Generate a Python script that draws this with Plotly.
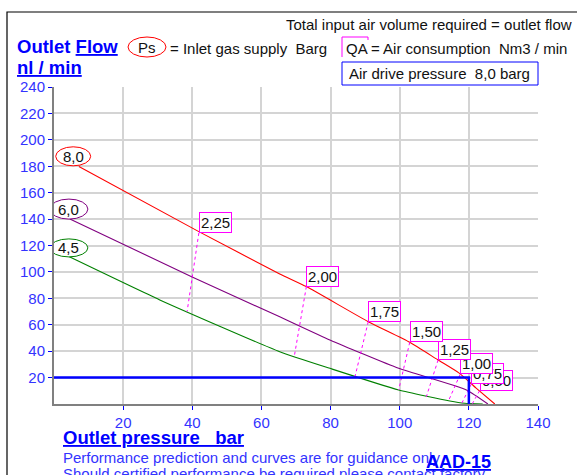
import plotly.graph_objects as go

# ---------------- data ----------------
x_ticks = [20, 40, 60, 80, 100, 120, 140]
y_ticks = [20, 40, 60, 80, 100, 120, 140, 160, 180, 200, 220, 240]

ps_labels = ["8,0", "6,0", "4,5"]
ps_colors = ["#ff0000", "#800080", "#008000"]

red_x = [7.2, 41.9, 65.3, 73.0, 90.9, 102.9, 111.1, 117.3, 122.1, 127.5]
red_y = [179.8, 130.5, 98.5, 88.9, 62.3, 46.7, 33.3, 23.2, 12.0, 0.0]

purple_x = [4.6, 39.8, 65.3, 79.8, 99.7, 119.3, 125.5]
purple_y = [140.0, 96.4, 66.0, 48.5, 27.0, 10.6, 0.0]

green_x = [4.3, 30.6, 65.3, 79.8, 99.7, 114.5, 118.8, 124.0]
green_y = [111.6, 78.8, 39.6, 27.0, 10.6, 2.3, 0.6, 0.0]

qa_labels = ["2,25", "2,00", "1,75", "1,50", "1,25", "1,00", "0,75", "0,50"]
qa_top_x = [41.9, 73.0, 90.9, 102.9, 111.1, 117.5, 120.7, 123.1]
qa_top_y = [129.5, 88.9, 62.3, 46.7, 33.3, 22.5, 15.0, 10.0]
qa_bot_x = [38.5, 69.5, 87.0, 99.7, 107.7, 114.0, 118.0, 121.0]
qa_bot_y = [70.0, 36.0, 20.0, 10.6, 5.5, 1.7, 0.8, 0.2]

op_flow = 20      # operating point: outlet flow
op_pressure = 120  # operating point: outlet pressure

# ---------------- layout helpers ----------------
W, H = 577, 475
L, R, T, B = 54, 538, 87, 404
FONT = "Liberation Sans, Arial, sans-serif"
BLUE = "#0000ff"
TBLUE = "#3333ff"


def fx(px):
    return (px - L) / (R - L)


def fy(py):
    return (B - py) / (B - T)


fig = go.Figure()

series = [(red_x, red_y), (purple_x, purple_y), (green_x, green_y)]
for (xs, ys), c in zip(series, ps_colors):
    fig.add_trace(go.Scatter(x=xs, y=ys, mode="lines",
                             line=dict(color=c, width=1.1, shape="spline", smoothing=0.5),
                             hoverinfo="skip", showlegend=False))

# QA dotted lines
for tx, ty, bx, by in zip(qa_top_x, qa_top_y, qa_bot_x, qa_bot_y):
    fig.add_trace(go.Scatter(x=[tx, bx], y=[ty, by], mode="lines",
                             line=dict(color="#ff00ff", width=1, dash="dot"),
                             hoverinfo="skip", showlegend=False))

# operating point guide
fig.add_trace(go.Scatter(x=[0, op_pressure, op_pressure], y=[op_flow, op_flow, 0],
                         mode="lines", line=dict(color=BLUE, width=2.5),
                         hoverinfo="skip", showlegend=False))

annotations = []
shapes = []

# Ps ellipse labels at curve starts
ps_dx = [-5.7, -1, 0]
ps_dy = [10.2, 10, 8.7]
ps_w = [35, 38, 38]
ps_h = [19, 20, 18]
for (xs, ys), c, lab, dx, dy, w, h in zip(series, ps_colors, ps_labels, ps_dx, ps_dy, ps_w, ps_h):
    shapes.append(dict(type="circle", xref="x", yref="y",
                       xsizemode="pixel", ysizemode="pixel",
                       xanchor=xs[0], yanchor=ys[0],
                       x0=dx - w / 2, x1=dx + w / 2, y0=dy - h / 2, y1=dy + h / 2,
                       line=dict(color=c, width=1), fillcolor="white", layer="above"))
    annotations.append(dict(x=xs[0], y=ys[0], xref="x", yref="y", text=lab,
                            showarrow=False, xshift=dx, yshift=dy,
                            font=dict(family=FONT, size=15, color="#111111"),
                            xanchor="center", yanchor="middle"))

# QA boxes (smallest first so larger ones sit on top)
for lab, tx, ty in reversed(list(zip(qa_labels, qa_top_x, qa_top_y))):
    annotations.append(dict(x=tx, y=ty, xref="x", yref="y", text=lab,
                            showarrow=False, xanchor="left", yanchor="bottom",
                            font=dict(family=FONT, size=15, color="#111111"),
                            bordercolor="#ff00ff", borderwidth=1, borderpad=1,
                            bgcolor="white"))


def txt(text, px, pyc, size=15, color="#111111", anchor="left"):
    annotations.append(dict(x=fx(px), y=fy(pyc), xref="paper", yref="paper",
                            text=text, showarrow=False, xanchor=anchor,
                            yanchor="middle",
                            font=dict(family=FONT, size=size, color=color)))


NB = "\u00a0"
txt("Total input air volume required = outlet flow", 574, 24.5, anchor="right")
txt("<b>Outlet <u>Flow</u></b>", 15, 46.5, size=18.5, color=BLUE)
txt("<b><u>nl / min</u></b>", 15, 68, size=18.5, color=BLUE)
txt("Ps", 147, 47.5, anchor="center")
txt("= Inlet gas supply" + NB + NB + "Barg", 168, 48)
txt("QA = Air consumption" + NB + NB + "Nm3 / min", 344, 48)
txt("Air drive pressure" + NB + NB + "8,0 barg", 347, 73.5)
txt("<b><u>Outlet pressure" + NB + NB + NB + "bar</u></b>", 61, 437.5, size=18.5, color=BLUE)
txt("Performance prediction and curves are for guidance only", 61, 457.5, color=TBLUE)
txt("Should certified performance be required please contact factory", 61, 473, color=TBLUE)
txt("<b><u>AAD-15</u></b>", 424, 462, size=18, color=BLUE)

# frame
shapes.append(dict(type="rect", xref="paper", yref="paper",
                   x0=fx(7), x1=fx(600), y0=fy(500), y1=fy(12),
                   line=dict(color="black", width=1.2), layer="below"))
# Ps legend ellipse
shapes.append(dict(type="circle", xref="paper", yref="paper",
                   x0=fx(128), x1=fx(166), y0=fy(57), y1=fy(37),
                   line=dict(color="#ff0000", width=1)))
# QA bracket
shapes.append(dict(type="path", xref="paper", yref="paper",
                   path=f"M {fx(368)},{fy(40)} L {fx(368)},{fy(37)} L {fx(342)},{fy(37)} L {fx(342)},{fy(57)}",
                   line=dict(color="#ff00ff", width=1)))
# air drive pressure box
shapes.append(dict(type="rect", xref="paper", yref="paper",
                   x0=fx(342), x1=fx(538), y0=fy(85), y1=fy(62),
                   line=dict(color=BLUE, width=1)))

axis_common = dict(showgrid=True, gridcolor="#d4d4d4", gridwidth=1.5,
                   showline=True, linecolor="#808080", linewidth=2,
                   ticks="outside", ticklen=4, tickcolor=BLUE, tickwidth=1,
                   zeroline=False, fixedrange=True,
                   tickfont=dict(family=FONT, size=15, color=TBLUE))

fig.update_layout(
    width=W, height=H,
    margin=dict(l=L, r=W - R, t=T, b=H - B, autoexpand=False),
    paper_bgcolor="white", plot_bgcolor="white",
    xaxis=dict(range=[0, 140], tickvals=x_ticks, ticktext=[str(v) for v in x_ticks], **axis_common),
    yaxis=dict(range=[0, 240], tickvals=y_ticks, ticktext=[str(v) for v in y_ticks], **axis_common),
    annotations=annotations, shapes=shapes, showlegend=False,
)

fig.write_html("out.html", config={"displayModeBar": False},
               post_script="document.body.style.margin='0';document.body.style.padding='0';document.body.style.overflow='hidden';")
